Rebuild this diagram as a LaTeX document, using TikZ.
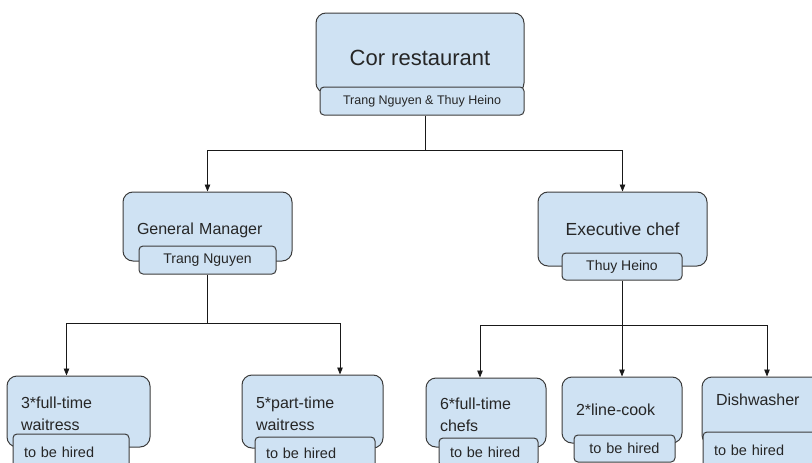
\documentclass[tikz,border=0pt]{standalone}
\usepackage{fontspec}
\setmainfont{Liberation Sans}
\usetikzlibrary{arrows.meta}
\definecolor{boxblue}{RGB}{207,226,243}
\definecolor{boxline}{RGB}{60,60,60}

\begin{document}
\begin{tikzpicture}[x=1pt,y=-1pt,
        >={Triangle[length=7pt,width=5.5pt]},
        unit/.style={draw=boxline,fill=boxblue,line width=1pt,rounded corners=10pt,text=black!85,inner xsep=14pt,inner ysep=0pt},
        holder/.style={draw=boxline,fill=boxblue,line width=1pt,rounded corners=4pt,text=black!85,inner xsep=11pt,inner ysep=0pt},
        link/.style={line width=0.9pt,black!90}]
        \useasboundingbox (0,0) rectangle (812,463);
        \clip (0,0) rectangle (812,463);

        % owners
        \node[unit,minimum width=208pt,minimum height=80pt,text height=24pt,text depth=0pt,font=\fontsize{22}{26}\selectfont] (cor) at (420,53) {Cor restaurant};
        \node[holder,minimum width=204pt,minimum height=28pt,font=\fontsize{12.5}{15}\selectfont] (cor_name) at (422,101) {Trang Nguyen \& Thuy Heino};

        % managers
        \node[unit,text width=141pt,align=left,minimum height=69pt,text height=19pt,text depth=3.4pt,font=\fontsize{16}{19}\selectfont] (gm) at (207.5,226.5) {General Manager};
        \node[holder,minimum width=137pt,minimum height=28pt,font=\fontsize{14}{17}\selectfont] (gm_name) at (207.5,260) {Trang Nguyen};
        \node[unit,minimum width=169pt,minimum height=74pt,font=\fontsize{17.5}{21}\selectfont] (ec) at (622.5,229) {Executive chef};
        \node[holder,minimum width=120pt,minimum height=27pt,font=\fontsize{14}{17}\selectfont] (ec_name) at (622,266.5) {Thuy Heino};

        % staff
        \begin{scope}[every node/.append style={font=\fontsize{16}{22}\selectfont}]
        \node[unit,text width=115pt,align=left,minimum height=71pt,text height=16pt] (fullwait) at (78.5,411.5) {3*full-time\\waitress};
        \node[unit,text width=113pt,align=left,minimum height=73pt,text height=16pt] (partwait) at (312.5,411.5) {5*part-time\\waitress};
        \node[unit,text width=92pt,align=left,minimum height=69pt,text height=16pt] (chefs) at (486,412.5) {6*full-time\\chefs};
        \node[unit,text width=92pt,align=left,minimum height=66pt] (cook) at (622,410) {2*line-cook};
        \node[unit,text width=102pt,align=left,minimum height=68pt] (dish) at (767,411) {Dishwasher\\\mbox{}};
        \end{scope}
        \begin{scope}[every node/.append style={font=\fontsize{14.5}{17}\selectfont}]
        \node[holder,text width=94pt,align=left,minimum height=36pt] (fullwait_hire) at (71,452) {to be hired};
        \node[holder,text width=98pt,align=left,minimum height=32pt] (partwait_hire) at (315,453) {to be hired};
        \node[holder,text width=77pt,align=left,minimum height=28pt] (chefs_hire) at (488.5,452) {to be hired};
        \node[holder,text width=79pt,align=center,minimum height=27pt] (cook_hire) at (624.5,448.5) {to be hired};
        \node[holder,text width=105pt,align=left,minimum height=36pt] (dish_hire) at (766.5,450) {to be hired};
        \end{scope}

        % connectors
        \coordinate (topfork) at (425,150);
        \coordinate (gmfork) at (207,323);
        \coordinate (ecfork) at (622,325);
        \draw[link] (topfork |- cor_name.south) -- (topfork);
        \draw[link,->] (topfork) -| (gm.north);
        \draw[link,->] (topfork) -| (ec.north);
        \draw[link] (gmfork |- gm_name.south) -- (gmfork);
        \draw[link,->] (gmfork) -| ([xshift=-12pt]fullwait.north);
        \draw[link,->] (gmfork) -| ([xshift=27.5pt]partwait.north);
        \draw[link] (ecfork |- ec_name.south) -- (ecfork);
        \draw[link,->] (ecfork) -| ([xshift=-6pt]chefs.north);
        \draw[link,->] (ecfork) -- (cook.north);
        \draw[link,->] (ecfork) -| (dish.north);
\end{tikzpicture}
\end{document}
